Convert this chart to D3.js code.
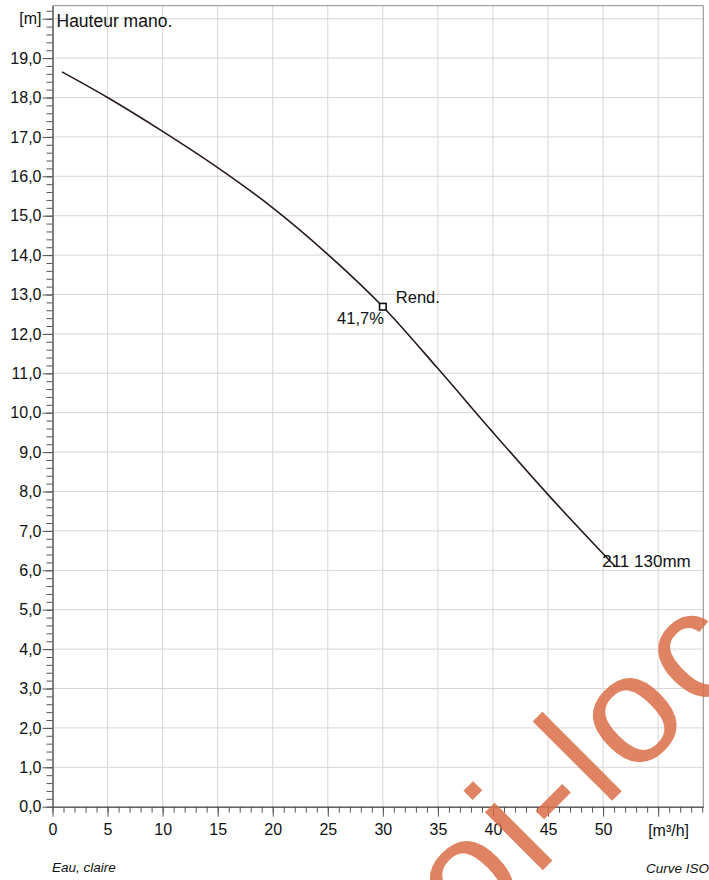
<!DOCTYPE html>
<html>
<head>
<meta charset="utf-8">
<script src="https://cdn.jsdelivr.net/npm/d3@7"></script>
<style>
  body { margin: 0; background: #fff; }
  svg text { font-family: "Liberation Sans", Arial, sans-serif; }
</style>
</head>
<body>
<div id="wrapper"></div>
<script>
// pump curve
const debit = [0.86, 5, 10, 15, 20, 25, 30, 35, 40, 45, 50, 51.1]
const hauteur = [18.65, 18.0, 17.14, 16.22, 15.2, 14.02, 12.69, 11.12, 9.5, 7.92, 6.42, 6.1]

const pointRend = [30, 12.69]
const xTicks = [0, 5, 10, 15, 20, 25, 30, 35, 40, 45, 50, 55]
const yTicks = d3.range(0, 21, 1)

function drawChart() {

  // 1. Dimensions

  const width = 709
  const height = 880
  const margin = { top: 5.7, left: 52.5 }
  const plotW = 650.8
  const plotH = 801

  const svg = d3.select("#wrapper")
    .append("svg")
      .attr("width", width)
      .attr("height", height)

  const bounds = svg.append("g")
    .attr("transform", `translate(${margin.left}, ${margin.top})`)

  // 2. Scales

  const xScale = d3.scaleLinear()
    .domain([0, 59.1])
    .range([0, plotW])

  const yScale = d3.scaleLinear()
    .domain([0, 20.33])
    .range([plotH, 0])

  const fr = d3.formatLocale({ decimal: ",", thousands: " ", grouping: [3], currency: ["", ""] })
  const yFmt = fr.format(".1f")

  // 3. Grid

  bounds.append("g")
    .selectAll("line")
    .data(xTicks.filter(d => d > 0))
    .join("line")
      .attr("x1", d => xScale(d))
      .attr("x2", d => xScale(d))
      .attr("y1", 0)
      .attr("y2", plotH)
      .attr("stroke", "#d6d6d6")

  bounds.append("g")
    .selectAll("line")
    .data(yTicks.filter(d => d > 0))
    .join("line")
      .attr("x1", 0)
      .attr("x2", plotW)
      .attr("y1", d => yScale(d))
      .attr("y2", d => yScale(d))
      .attr("stroke", "#d6d6d6")

  // frame top / right
  bounds.append("path")
    .attr("d", `M0,0H${plotW}V${plotH}`)
    .attr("fill", "none")
    .attr("stroke", "#8a8a8a")

  // 4. Axes

  bounds.append("g")
    .attr("transform", `translate(0, ${plotH})`)
    .call(d3.axisBottom(xScale)
      .tickValues(d3.range(0, 60, 1))
      .tickSize(6)
      .tickSizeOuter(0)
      .tickFormat(""))

  const xAxis = bounds.append("g")
    .attr("transform", `translate(0, ${plotH})`)
    .call(d3.axisBottom(xScale)
      .tickValues(xTicks)
      .tickSize(10)
      .tickSizeOuter(0)
      .tickPadding(7)
      .tickFormat(d => d === 55 ? "" : d))

  bounds.append("g")
    .call(d3.axisLeft(yScale)
      .tickValues(d3.range(0, 102, 1).map(d => d / 5).filter(d => d <= 20.3))
      .tickSize(6)
      .tickSizeOuter(0)
      .tickFormat(""))

  bounds.append("g")
    .call(d3.axisLeft(yScale)
      .tickValues(yTicks)
      .tickSize(10)
      .tickSizeOuter(0)
      .tickPadding(1)
      .tickFormat(d => d === 20 ? "[m]" : yFmt(d)))

  svg.selectAll(".domain, .tick line").attr("stroke", "#555")
  svg.selectAll(".tick text")
    .attr("fill", "#111")
    .style("font-size", "16px")

  xAxis.append("text")
    .attr("x", xScale(55) - 10)
    .attr("y", 29)
    .attr("fill", "#111")
    .attr("text-anchor", "start")
    .style("font-size", "16px")
    .text("[m³/h]")

  // 5. Curve

  const points = debit.map((d, i) => [d, hauteur[i]])

  const line = d3.line()
    .x(d => xScale(d[0]))
    .y(d => yScale(d[1]))
    .curve(d3.curveCatmullRom)

  bounds.append("path")
    .datum(points)
    .attr("d", line)
    .attr("fill", "none")
    .attr("stroke", "#2a1b1b")
    .attr("stroke-width", 1.6)

  const last = points[points.length - 1]
  bounds.append("text")
    .attr("x", xScale(last[0]) - 13)
    .attr("y", yScale(last[1]) + 1)
    .attr("fill", "#111")
    .style("font-size", "17px")
    .text("211 130mm")

  // duty point
  const px = xScale(pointRend[0])
  const py = yScale(pointRend[1])
  bounds.append("rect")
    .attr("x", px - 3.3)
    .attr("y", py - 3.3)
    .attr("width", 6.6)
    .attr("height", 6.6)
    .attr("fill", "#fff")
    .attr("stroke", "#111")
    .attr("stroke-width", 1.6)

  bounds.append("text")
    .attr("x", px + 13)
    .attr("y", py - 3.5)
    .attr("fill", "#111")
    .style("font-size", "16.5px")
    .text("Rend.")

  bounds.append("text")
    .attr("x", px + 1)
    .attr("y", py + 17)
    .attr("text-anchor", "end")
    .attr("fill", "#111")
    .style("font-size", "16.5px")
    .text("41,7%")

  // 6. Titles

  svg.append("text")
    .attr("x", 56.5)
    .attr("y", 27)
    .attr("fill", "#111")
    .style("font-size", "17.5px")
    .text("Hauteur mano.")

  svg.append("text")
    .attr("x", 52)
    .attr("y", 872)
    .attr("fill", "#111")
    .style("font-size", "13.5px")
    .style("font-style", "italic")
    .text("Eau, claire")

  svg.append("text")
    .attr("x", 709)
    .attr("y", 873)
    .attr("text-anchor", "end")
    .attr("fill", "#111")
    .style("font-size", "13.5px")
    .style("font-style", "italic")
    .text("Curve ISO")

  // 7. Watermark

  svg.append("text")
    .attr("transform", "translate(618, 795) rotate(-45)")
    .attr("x", -209)
    .attr("y", 0)
    .attr("fill", "#db6e48")
    .attr("opacity", 0.85)
    .style("font-size", "155px")
    .style("letter-spacing", "6px")
    .text("oi-loc")
}
drawChart()
</script>
</body>
</html>
